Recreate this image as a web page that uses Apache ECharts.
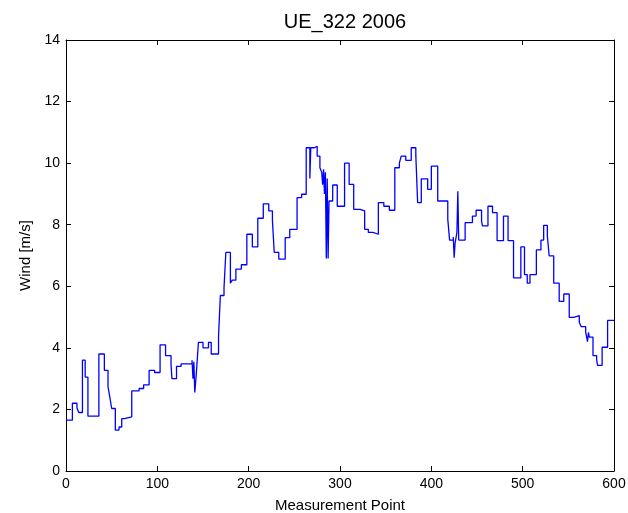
<!DOCTYPE html>
<html>
<head>
<meta charset="utf-8">
<script src="https://cdn.jsdelivr.net/npm/echarts@6/dist/echarts.min.js"></script>
<style>html,body{margin:0;padding:0;background:#fff;}#c{width:628px;height:513px;}</style>
</head>
<body>
<div id="c"></div>
<script>
var titleText = 'UE_322 2006';
var xName = 'Measurement Point';
var yName = 'Wind [m/s]';
var xTicks = [0, 100, 200, 300, 400, 500, 600];
var yTicks = [0, 2, 4, 6, 8, 10, 12, 14];

// step breakpoints: measurement point where a new level starts, and the wind value
var points = [0,7,12,14,18,21,24,36,42,46,48,50,54,58,61,64,72,80,85,91,97,103,109,115,116,121,126,
  138,139,140,141,142,143,145,150,156,159,167,169,173,175,180,182,186,192,198,204,210,216,222,226,228,233,
  240,245,253,258,263,267,268,272,275,278,280,281,282,283,284,285,286,287,288,292,297,305,310,315,322,327,
  331,336,342,348,354,360,365,367,372,378,383,385,389,396,400,407,418,420,424,425,426,428,429,430,437,445,
  449,455,456,462,467,472,479,484,490,498,502,505,508,515,520,523,527,529,534,540,545,551,556,562,564,569,
  571,572,573,577,581,582,587,593,600];
var wind = [1.65,2.2,2.05,1.9,3.6,3.05,1.78,3.8,3.27,2.73,2.4,2.03,1.33,1.43,1.7,1.76,2.6,2.68,2.8,3.27,3.2,4.1,3.75,3.45,3.0,3.4,3.48,
  3.6,3.0,3.55,2.55,2.9,3.3,4.18,4.0,4.18,3.8,4.37,5.7,5.95,7.1,6.1,6.2,6.56,6.7,7.69,7.28,8.21,8.68,8.45,8.15,7.1,6.88,
  7.58,7.85,8.88,8.99,10.5,9.5,10.5,10.55,10.23,9.85,9.7,9.3,9.8,9.0,9.7,6.9,9.5,6.9,8.77,9.29,8.6,10.0,9.31,8.5,8.45,7.85,
  7.75,7.69,8.72,8.6,8.47,9.85,10.0,10.23,10.09,10.5,10.26,8.72,9.49,9.15,9.9,8.77,8.18,7.5,7.6,6.93,7.4,7.74,9.09,7.5,8.07,8.28,
  8.47,8.12,7.96,8.6,8.39,7.48,8.28,7.48,6.27,7.28,6.38,6.1,6.38,7.18,7.5,7.98,7.64,6.99,6.1,5.51,5.75,4.99,5.05,4.83,4.69,4.51,
  4.2,4.5,4.35,3.75,3.61,3.43,4.02,4.89,4.89];

var seriesData = points.map(function (p, i) { return [p, wind[i]]; });
var font = 'Liberation Sans, Arial, sans-serif';

var chart = echarts.init(document.getElementById('c'), null, {renderer: 'canvas'});
var axisCommon = {
  axisLine: {show: true, onZero: false, lineStyle: {color: '#000', width: 1}},
  axisTick: {show: true, inside: true, length: 5, lineStyle: {color: '#000'}},
  splitLine: {show: false}
};
chart.setOption({
  animation: false,
  backgroundColor: '#fff',
  title: {text: titleText, left: 340, textAlign: 'center', top: 7,
    textStyle: {fontFamily: font, fontSize: 20, fontWeight: 'normal', color: '#000'}},
  grid: {left: 66, right: 14, top: 40, bottom: 42, show: false, outerBoundsMode: 'none', containLabel: false},
  xAxis: [
    Object.assign({type: 'value', min: xTicks[0], max: xTicks[xTicks.length - 1], interval: 100, position: 'bottom',
      name: xName, nameLocation: 'middle', nameGap: 27,
      nameTextStyle: {fontFamily: font, fontSize: 15, color: '#000'},
      axisLabel: {fontFamily: font, fontSize: 14, color: '#000', margin: 6}}, axisCommon),
    Object.assign({type: 'value', min: xTicks[0], max: xTicks[xTicks.length - 1], interval: 100, position: 'top',
      axisLabel: {show: false}}, axisCommon)
  ],
  yAxis: [
    Object.assign({type: 'value', min: yTicks[0], max: yTicks[yTicks.length - 1], interval: 2, position: 'left',
      name: yName, nameLocation: 'middle', nameGap: 31, nameRotate: 90,
      nameTextStyle: {fontFamily: font, fontSize: 15, color: '#000'},
      axisLabel: {fontFamily: font, fontSize: 14, color: '#000', margin: 6}}, axisCommon),
    Object.assign({type: 'value', min: yTicks[0], max: yTicks[yTicks.length - 1], interval: 2, position: 'right',
      axisLabel: {show: false}}, axisCommon)
  ],
  series: [{
    type: 'line', step: 'end', data: seriesData, showSymbol: false, symbol: 'none',
    xAxisIndex: 0, yAxisIndex: 0,
    lineStyle: {color: '#0000ff', width: 1.3}
  }]
});
</script>
</body>
</html>
